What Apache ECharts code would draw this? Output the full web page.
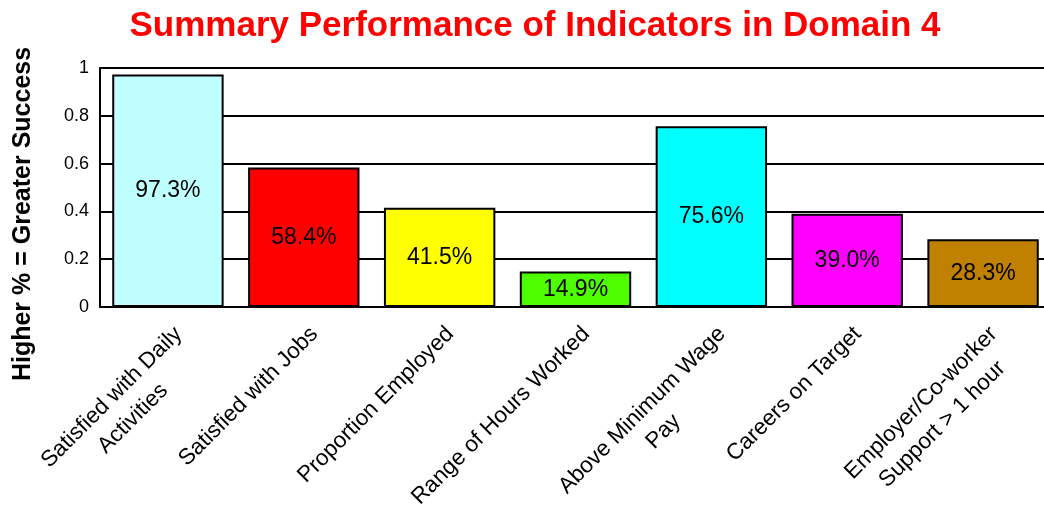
<!DOCTYPE html>
<html>
<head>
<meta charset="utf-8">
<script src="https://cdn.jsdelivr.net/npm/echarts@6/dist/echarts.min.js"></script>
<style>
  html, body { margin: 0; padding: 0; background: #fff; }
  #main { width: 1044px; height: 510px; }
</style>
</head>
<body>
<div id="main"></div>
<script>
// data
const categories = [
  'Satisfied with Daily\nActivities',
  'Satisfied with Jobs',
  'Proportion Employed',
  'Range of Hours Worked',
  'Above Minimum Wage\nPay',
  'Careers on Target',
  'Employer/Co-worker\nSupport > 1 hour'
];
const values = [0.973, 0.584, 0.415, 0.149, 0.756, 0.390, 0.283];
const barColors = ['#C0FFFF', '#FF0000', '#FFFF00', '#4DFF00', '#00FFFF', '#FF00FF', '#C08000'];
const yTicks = [0, 0.2, 0.4, 0.6, 0.8, 1];

const chart = echarts.init(document.getElementById('main'));
const font = 'Liberation Sans, Arial, sans-serif';

chart.setOption({
  animation: false,
  title: {
    text: 'Summary Performance of Indicators in Domain 4',
    left: 530,
    top: 4,
    textAlign: 'center',
    textStyle: { color: '#FF0000', fontSize: 35, fontWeight: 'bold', fontFamily: font }
  },
  graphic: [{
    type: 'text',
    x: 23,
    y: 214,
    rotation: Math.PI / 2,
    style: {
      text: 'Higher % = Greater Success',
      fill: '#000',
      font: 'bold 25px ' + font,
      align: 'center',
      verticalAlign: 'middle'
    }
  }],
  grid: { left: 100, right: -7, top: 68, bottom: 203, containLabel: false, outerBoundsMode: 'none' },
  xAxis: {
    type: 'category',
    data: categories,
    axisLine: { show: true, lineStyle: { color: '#000', width: 2 } },
    axisTick: { show: false },
    axisLabel: {
      interval: 0,
      rotate: 45,
      margin: 13,
      verticalAlign: 'top',
      color: '#000',
      fontSize: 22.5,
      fontFamily: font,
      formatter: v => v.split('\n').map(s => '{c|' + s + '}').join('\n'),
      rich: { c: { align: 'center', fontSize: 22.5, fontFamily: font, color: '#000', lineHeight: 30 } }
    }
  },
  yAxis: {
    type: 'value',
    min: yTicks[0],
    max: yTicks[yTicks.length - 1],
    interval: 0.2,
    axisLine: { show: true, lineStyle: { color: '#000', width: 2 } },
    axisTick: { show: false },
    axisLabel: {
      margin: 11,
      color: '#000',
      fontSize: 18,
      fontFamily: font,
      formatter: v => String(Math.round(v * 10) / 10)
    },
    splitLine: { show: true, lineStyle: { color: '#000', width: 2 } }
  },
  series: [{
    type: 'bar',
    barCategoryGap: '18%',
    data: values.map((v, i) => ({
      value: v,
      itemStyle: { color: barColors[i], borderColor: '#000', borderWidth: 2 }
    })),
    label: {
      show: true,
      position: 'inside',
      color: '#000',
      fontSize: 23,
      fontFamily: font,
      formatter: p => (p.value * 100).toFixed(1) + '%'
    }
  }]
});
</script>
</body>
</html>
